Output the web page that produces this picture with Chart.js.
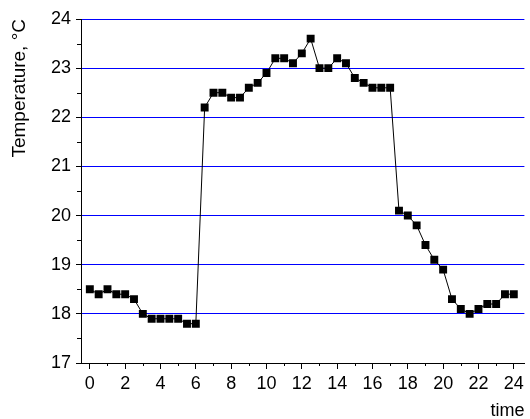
<!DOCTYPE html>
<html>
<head>
<meta charset="utf-8">
<script src="https://cdn.jsdelivr.net/npm/chart.js@4"></script>
<style>
  body { margin: 0; background: #fff; overflow: hidden; }
</style>
</head>
<body>
<canvas id="myChart" width="530" height="419"></canvas>
<script>
// time of day (h) and measured temperature
const times = [0, 0.5, 1, 1.5, 2, 2.5, 3, 3.5, 4, 4.5, 5, 5.5, 6, 6.5, 7, 7.5, 8, 8.5, 9, 9.5,
  10, 10.5, 11, 11.5, 12, 12.5, 13, 13.5, 14, 14.5, 15, 15.5, 16, 16.5, 17, 17.5, 18, 18.5, 19, 19.5,
  20, 20.5, 21, 21.5, 22, 22.5, 23, 23.5, 24];
const temps = [18.5, 18.4, 18.5, 18.4, 18.4, 18.3, 18.0, 17.9, 17.9, 17.9, 17.9, 17.8, 17.8, 22.2, 22.5, 22.5, 22.4, 22.4, 22.6, 22.7,
  22.9, 23.2, 23.2, 23.1, 23.3, 23.6, 23.0, 23.0, 23.2, 23.1, 22.8, 22.7, 22.6, 22.6, 22.6, 20.1, 20.0, 19.8, 19.4, 19.1,
  18.9, 18.3, 18.1, 18.0, 18.1, 18.2, 18.2, 18.4, 18.4];

const xTicks = [0, 2, 4, 6, 8, 10, 12, 14, 16, 18, 20, 22, 24];
const yTicks = [17, 18, 19, 20, 21, 22, 23, 24];

const font = { family: "'Liberation Sans', Arial, sans-serif", size: 18 };

// short minor ticks halfway between the major ones
const minorTicks = {
  id: 'minorTicks',
  afterDraw(chart) {
    const ctx = chart.ctx;
    const area = chart.chartArea;
    const xs = chart.scales.x, ys = chart.scales.y;
    ctx.save();
    ctx.strokeStyle = '#000';
    ctx.lineWidth = 1;
    ctx.beginPath();
    for (let i = 0; i < xTicks.length - 1; i++) {
      const px = Math.round(xs.getPixelForValue((xTicks[i] + xTicks[i + 1]) / 2)) + 0.5;
      ctx.moveTo(px, area.bottom);
      ctx.lineTo(px, area.bottom + 3);
    }
    for (let i = 0; i < yTicks.length - 1; i++) {
      const py = Math.round(ys.getPixelForValue((yTicks[i] + yTicks[i + 1]) / 2)) + 0.5;
      ctx.moveTo(area.left, py);
      ctx.lineTo(area.left - 4, py);
    }
    ctx.stroke();
    ctx.restore();
  }
};

const ctx = document.getElementById('myChart').getContext('2d');
new Chart(ctx, {
  type: 'line',
  data: {
    datasets: [{
      data: times.map((t, i) => ({ x: t, y: temps[i] })),
      borderColor: '#000',
      borderWidth: 1,
      backgroundColor: '#000',
      pointStyle: 'rect',
      pointRadius: 5.6,
      pointBorderWidth: 0,
      pointBackgroundColor: '#000',
      tension: 0
    }]
  },
  options: {
    responsive: false,
    animation: false,
    layout: { padding: { top: 19, right: 0, left: 0, bottom: 0 } },
    plugins: { legend: { display: false }, tooltip: { enabled: false } },
    scales: {
      x: {
        type: 'linear',
        position: 'bottom',
        min: -0.5,
        max: 24.6,
        afterBuildTicks: s => { s.ticks = xTicks.map(v => ({ value: v })); },
        afterFit: s => { s.height = 56; s.paddingLeft = 0; s.paddingRight = 0; },
        grid: { drawOnChartArea: false, tickLength: 6, color: '#000' },
        border: { color: '#000', width: 1, z: 1 },
        ticks: { color: '#000', font: font, padding: 4, maxRotation: 0, autoSkip: false },
        title: { display: true, text: 'time', align: 'end', color: '#000', font: font,
          padding: { top: 0, bottom: -3 } }
      },
      y: {
        min: 17,
        max: 24,
        afterBuildTicks: s => { s.ticks = yTicks.map(v => ({ value: v })); },
        afterFit: s => { s.width = 81; },
        grid: { color: '#0000ff', lineWidth: 1, tickColor: '#000', tickLength: 5 },
        border: { color: '#000', width: 1 },
        ticks: { color: '#000', font: font, padding: 5, autoSkip: false },
        title: { display: true, text: 'Temperature, °C', align: 'end', color: '#000',
          font: { family: font.family, size: 19 }, padding: { top: 8, bottom: 0 } }
      }
    }
  },
  plugins: [minorTicks]
});
</script>
</body>
</html>
